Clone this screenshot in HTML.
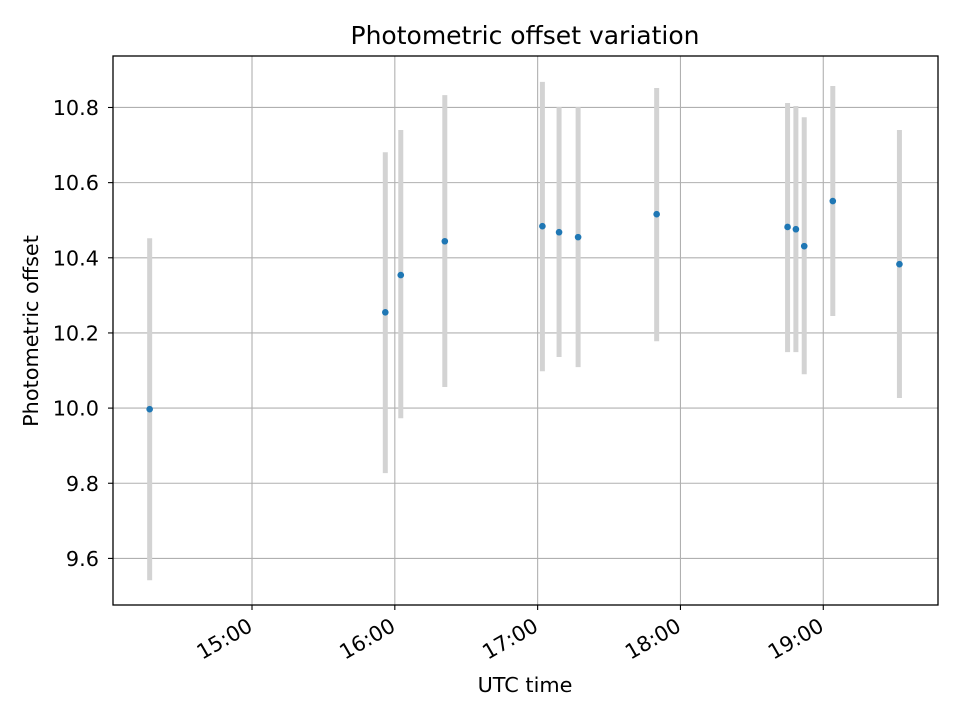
<!DOCTYPE html>
<html><head><meta charset="utf-8"><style>
body{margin:0;background:#fff}
svg text{font-family:"DejaVu Sans","Liberation Sans",sans-serif;fill:#000}
</style></head><body>
<svg id="chart" width="960" height="720" xmlns="http://www.w3.org/2000/svg">
<rect width="960" height="720" fill="#fff"/>
<text x="525" y="44" font-size="25" text-anchor="middle">Photometric offset variation</text>
<g id="grid"></g>
<g id="bars"></g>
<g id="pts"></g>
<rect x="113" y="56" width="825" height="549" fill="none" stroke="#000" stroke-width="1.3"/>
<g id="ticks"></g>
<text x="525" y="692" font-size="20.8" text-anchor="middle">UTC time</text>
<text transform="translate(38,331) rotate(-90)" font-size="20.8" text-anchor="middle">Photometric offset</text>
</svg>
<script>
// minutes since 14:00
const times=[17,116,122.5,141,182,189,197,230,285,288.5,292,304,332];
const values=[9.997,10.255,10.354,10.444,10.484,10.468,10.455,10.516,10.482,10.476,10.431,10.551,10.383];
const errUpper=[10.452,10.681,10.740,10.833,10.868,10.801,10.801,10.852,10.812,10.804,10.774,10.857,10.740];
const errLower=[9.542,9.827,9.973,10.056,10.098,10.136,10.109,10.178,10.149,10.149,10.090,10.245,10.027];
const yTicks=[9.6,9.8,10.0,10.2,10.4,10.6,10.8];
const yTickLabels=["9.6","9.8","10.0","10.2","10.4","10.6","10.8"];
const xTicks=[60,120,180,240,300];
const xTickLabels=["15:00","16:00","17:00","18:00","19:00"];

const X0=113,X1=938,Y0=56,Y1=605;
const xMin=1.6,xMax=348.2,yMin=9.476,yMax=10.937;
const xs=t=>X0+(t-xMin)/(xMax-xMin)*(X1-X0);
const ys=v=>Y1-(v-yMin)/(yMax-yMin)*(Y1-Y0);
const NS="http://www.w3.org/2000/svg";
function mk(tag,parent,attrs){const e=document.createElementNS(NS,tag);for(const k in attrs)e.setAttribute(k,attrs[k]);document.getElementById(parent).appendChild(e);return e;}

yTicks.forEach((v,i)=>{
  const y=ys(v);
  const g=mk('line','grid',{x1:X0,x2:X1,y1:y,y2:y,stroke:'#b0b0b0','stroke-width':1.1});
  
  
  const t=mk('line','ticks',{x1:X0-5,x2:X0,y1:y,y2:y,stroke:'#000','stroke-width':1.1});
  
  
  const l=mk('text','ticks',{x:X0-14,y:y+7.5,'font-size':20.8,'text-anchor':'end'});
  l.textContent=yTickLabels[i];
  
  
});
xTicks.forEach((m,i)=>{
  const x=xs(m);
  const g=mk('line','grid',{x1:x,x2:x,y1:Y0,y2:Y1,stroke:'#b0b0b0','stroke-width':1.1});
  
  
  const t=mk('line','ticks',{x1:x,x2:x,y1:Y1,y2:Y1+5,stroke:'#000','stroke-width':1.1});
  
  
  const l=mk('text','ticks',{x:0,y:0,'font-size':20.8,'text-anchor':'end',transform:`translate(${x+2},${Y1+25}) rotate(-30)`});
  l.textContent=xTickLabels[i];
  
  
});
times.forEach((t,i)=>{
  const x=xs(t);
  const b=mk('line','bars',{x1:x,x2:x,y1:ys(errUpper[i]),y2:ys(errLower[i]),stroke:'#d3d3d3','stroke-width':5});
  
  
  const p=mk('circle','pts',{cx:x,cy:ys(values[i]),r:3.3,fill:'#1f77b4'});
  
  
});
</script>
</body></html>
